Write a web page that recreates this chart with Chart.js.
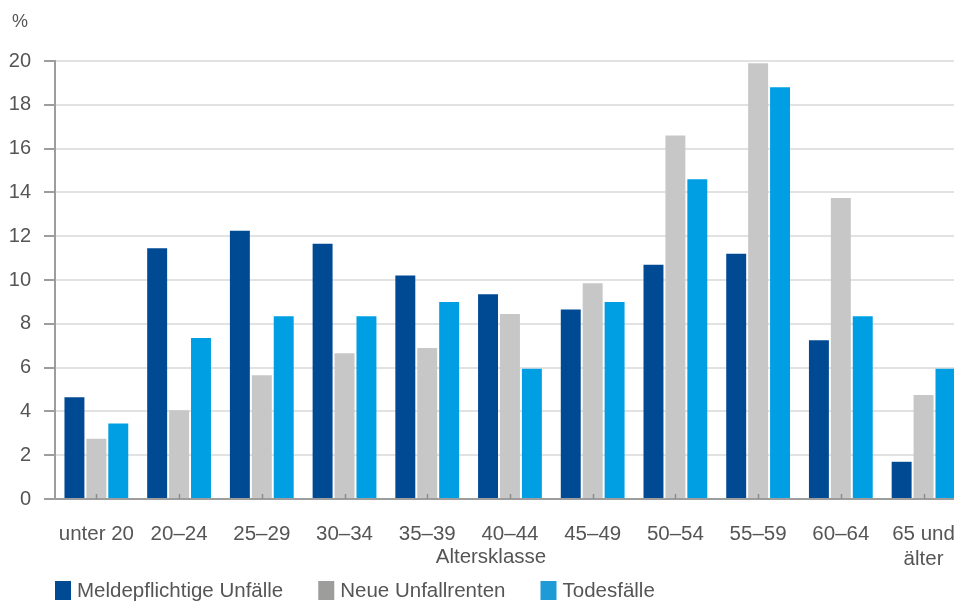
<!DOCTYPE html>
<html lang="de">
<head>
  <meta charset="UTF-8">
  <title>Unfälle nach Altersklasse</title>
  <style>
    html, body {
      margin: 0;
      padding: 0;
      overflow: hidden;
      background: #fff;
    }
    canvas {
      display: block;
    }
  </style>
</head>
<body>
  <canvas id="altersChart" width="970" height="601"></canvas>

  <script src="https://cdn.jsdelivr.net/npm/chart.js"></script>
  <script>
    const altersklassen = ['unter 20', '20–24', '25–29', '30–34', '35–39', '40–44',
      '45–49', '50–54', '55–59', '60–64', ['65 und', 'älter']];
    const meldepflichtig = [4.65, 11.45, 12.25, 11.65, 10.2, 9.35, 8.65, 10.7, 11.2, 7.25, 1.7];
    const unfallrenten = [2.75, 4.05, 5.65, 6.65, 6.9, 8.45, 9.85, 16.6, 19.9, 13.75, 4.75];
    const todesfaelle = [3.45, 7.35, 8.35, 8.35, 9.0, 5.95, 9.0, 14.6, 18.8, 8.35, 5.95];
    const yTicks = [0, 2, 4, 6, 8, 10, 12, 14, 16, 18, 20];

    const barColors = ['#004a93', '#c6c7c6', '#009fe3'];
    const legendColors = ['#004a93', '#9d9d9c', '#1e9bd7'];
    const textColor = '#555555';
    const fontFamily = '"Liberation Sans", Arial, sans-serif';

    // "%", axis title, legend and the little inward ticks on the x axis
    const extras = {
      id: 'extras',
      afterDatasetsDraw(chart) {
        const { ctx, chartArea } = chart;
        const x = chart.scales.x;
        ctx.save();
        ctx.strokeStyle = '#8c8c8c';
        ctx.lineWidth = 1.5;
        x.ticks.forEach((t, i) => {
          const px = Math.round(x.getPixelForTick(i)) + 0.5;
          ctx.beginPath();
          ctx.moveTo(px, chartArea.bottom - 5);
          ctx.lineTo(px, chartArea.bottom);
          ctx.stroke();
        });
        ctx.restore();
      },
      afterDraw(chart) {
        const { ctx, chartArea } = chart;
        ctx.save();
        ctx.fillStyle = textColor;
        ctx.font = '18px ' + fontFamily;
        ctx.textBaseline = 'middle';
        ctx.textAlign = 'center';
        ctx.fillText('%', 20, 22);

        ctx.font = '20.5px ' + fontFamily;
        // title sits a bit left of the plot centre in the original
        ctx.fillText('Altersklasse', (chartArea.left + chartArea.right) / 2 - 19, 557);

        // legend
        ctx.textAlign = 'left';
        let lx = chartArea.left;
        chart.data.datasets.forEach((ds, i) => {
          ctx.fillStyle = legendColors[i];
          ctx.fillRect(lx, 581, 16, 19);
          ctx.fillStyle = textColor;
          ctx.fillText(ds.label, lx + 22, 591);
          lx += 22 + ctx.measureText(ds.label).width + 35;
        });
        ctx.restore();
      }
    };

    const ctx = document.getElementById('altersChart').getContext('2d');
    new Chart(ctx, {
      type: 'bar',
      data: {
        labels: altersklassen,
        datasets: [
          { label: 'Meldepflichtige Unfälle', data: meldepflichtig, backgroundColor: barColors[0] },
          { label: 'Neue Unfallrenten', data: unfallrenten, backgroundColor: barColors[1] },
          { label: 'Todesfälle', data: todesfaelle, backgroundColor: barColors[2] }
        ]
      },
      options: {
        responsive: false,
        animation: false,
        datasets: {
          bar: { categoryPercentage: 0.795, barPercentage: 0.91 }
        },
        layout: {
          padding: { top: 61, right: 2, bottom: 32, left: 0 }
        },
        plugins: {
          legend: { display: false },
          tooltip: { enabled: false }
        },
        scales: {
          x: {
            grid: { display: false },
            border: { display: true, color: '#9d9d9d', width: 2 },
            ticks: {
              color: textColor,
              font: { family: fontFamily, size: 20.5 },
              padding: 15,
              maxRotation: 0,
              autoSkip: false
            },
            afterFit(scale) { scale.height = 70; }
          },
          y: {
            min: 0,
            max: 20,
            afterBuildTicks(scale) { scale.ticks = yTicks.map(v => ({ value: v })); },
            grid: {
              color: '#e2e2e2',
              lineWidth: 2,
              tickLength: 11,
              tickColor: '#9d9d9d',
              tickWidth: 2
            },
            border: { color: '#9d9d9d', width: 2 },
            ticks: {
              color: textColor,
              font: { family: fontFamily, size: 20 },
              padding: 13
            },
            afterFit(scale) { scale.width = 55; }
          }
        }
      },
      plugins: [extras]
    });
  </script>
</body>
</html>
